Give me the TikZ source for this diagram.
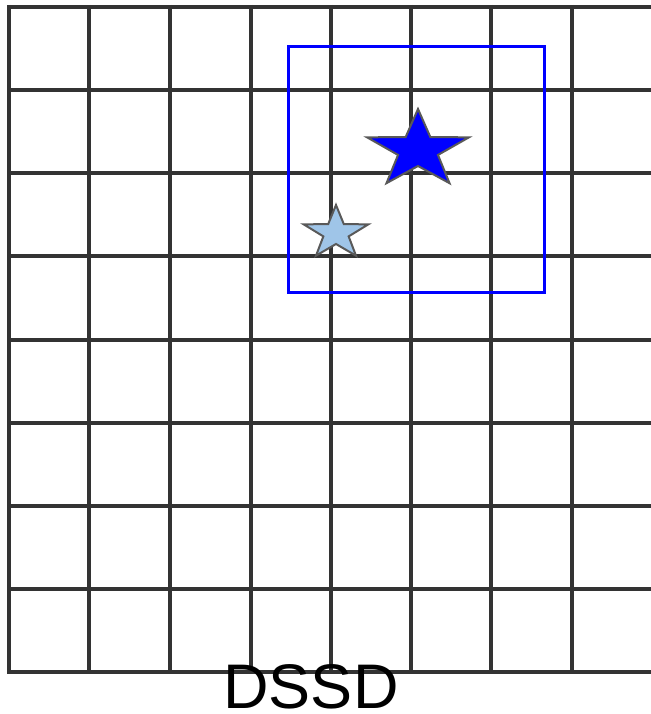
\documentclass[tikz,border=0pt]{standalone}
\usepackage{fontspec}
\setmainfont{Liberation Sans}
\definecolor{gridc}{HTML}{333333}
\definecolor{starline}{HTML}{595959}
\definecolor{lightstar}{HTML}{9FC5E8}
\begin{document}
\begin{tikzpicture}[x=1pt,y=-1pt,
  gridline/.style={draw=gridc,line width=4pt},
  boxline/.style={draw=blue,line width=3pt},
  starshape/.style={draw=starline,line width=2pt,line join=miter},
  lbl/.style={font=\fontsize{63}{63}\selectfont,inner sep=0pt,anchor=base}]
\useasboundingbox (0,0) rectangle (650,714);
% grid
\foreach \x in {9,89,170,251,331,411,491,572}{
  \draw[gridline] (\x,5) -- (\x,674);
}
\foreach \y in {7,90,173,256,340,423,506,589,672}{
  \draw[gridline] (7,\y) -- (655,\y);
}
% blue box
\draw[boxline] (288,47) rectangle (544,292);
% big star
\begin{scope}[shift={(418,150)}]
\draw[starshape,fill=blue] (-90:53.6 and 41) -- (-54:21 and 16) -- (-18:53.6 and 41) -- (18:21 and 16) -- (54:53.6 and 41) -- (90:21 and 16) -- (126:53.6 and 41) -- (162:21 and 16) -- (198:53.6 and 41) -- (234:21 and 16) -- cycle;
\end{scope}
% small star
\begin{scope}[shift={(336,233)}]
\draw[starshape,fill=lightstar] (-90:34 and 28) -- (-54:13.3 and 11) -- (-18:34 and 28) -- (18:13.3 and 11) -- (54:34 and 28) -- (90:13.3 and 11) -- (126:34 and 28) -- (162:13.3 and 11) -- (198:34 and 28) -- (234:13.3 and 11) -- cycle;
\end{scope}
\node[lbl] (label) at (311,708) {DSSD};
\end{tikzpicture}
\end{document}
